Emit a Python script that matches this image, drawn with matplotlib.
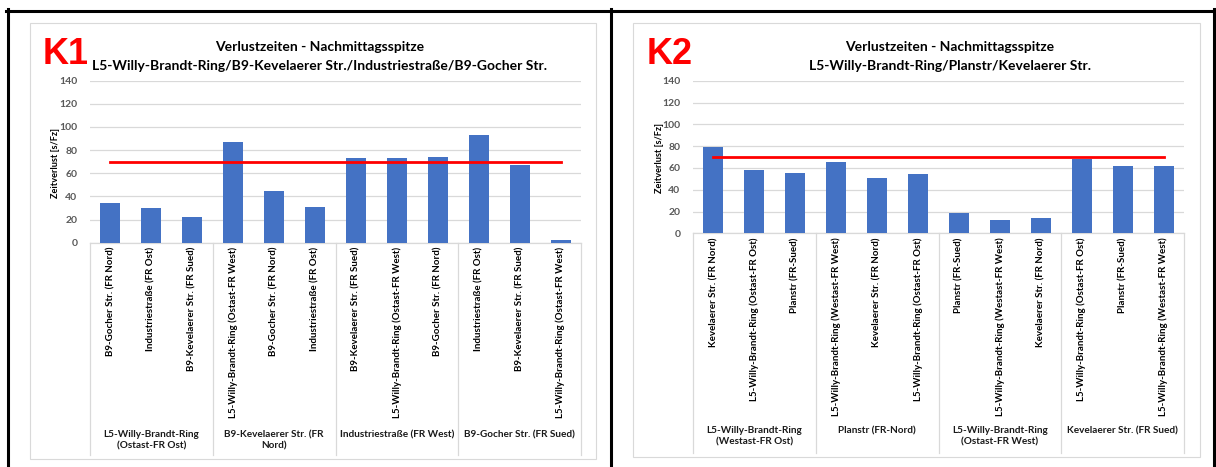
import matplotlib
matplotlib.use("Agg")
import matplotlib.pyplot as plt
from matplotlib.lines import Line2D
from matplotlib.patches import Rectangle
from matplotlib.transforms import blended_transform_factory

plt.rcParams['font.family'] = ['Lato', 'DejaVu Sans']

# ---------------- data ----------------
k1_title = ["Verlustzeiten - Nachmittagsspitze",
            "L5-Willy-Brandt-Ring/B9-Kevelaerer Str./Industriestraße/B9-Gocher Str."]
k1_groups = ["L5-Willy-Brandt-Ring\n(Ostast-FR Ost)", "B9-Kevelaerer Str. (FR\nNord)",
             "Industriestraße (FR West)", "B9-Gocher Str. (FR Sued)"]
k1_categories = [
    "B9-Gocher Str. (FR Nord)", "Industriestraße (FR Ost)", "B9-Kevelaerer Str. (FR Sued)",
    "L5-Willy-Brandt-Ring (Ostast-FR West)", "B9-Gocher Str. (FR Nord)", "Industriestraße (FR Ost)",
    "B9-Kevelaerer Str. (FR Sued)", "L5-Willy-Brandt-Ring (Ostast-FR West)", "B9-Gocher Str. (FR Nord)",
    "Industriestraße (FR Ost)", "B9-Kevelaerer Str. (FR Sued)", "L5-Willy-Brandt-Ring (Ostast-FR West)",
]
k1_values = [34, 30, 22, 87, 45, 31, 73, 73, 74, 93, 67, 2]

k2_title = ["Verlustzeiten - Nachmittagsspitze",
            "L5-Willy-Brandt-Ring/Planstr/Kevelaerer Str."]
k2_groups = ["L5-Willy-Brandt-Ring\n(Westast-FR Ost)", "Planstr (FR-Nord)",
             "L5-Willy-Brandt-Ring\n(Ostast-FR West)", "Kevelaerer Str. (FR Sued)"]
k2_categories = [
    "Kevelaerer Str. (FR Nord)", "L5-Willy-Brandt-Ring (Ostast-FR Ost)", "Planstr (FR-Sued)",
    "L5-Willy-Brandt-Ring (Westast-FR West)", "Kevelaerer Str. (FR Nord)", "L5-Willy-Brandt-Ring (Ostast-FR Ost)",
    "Planstr (FR-Sued)", "L5-Willy-Brandt-Ring (Westast-FR West)", "Kevelaerer Str. (FR Nord)",
    "L5-Willy-Brandt-Ring (Ostast-FR Ost)", "Planstr (FR-Sued)", "L5-Willy-Brandt-Ring (Westast-FR West)",
]
k2_values = [79, 58, 55, 65, 51, 54, 19, 12, 14, 68, 62, 62]

threshold = 70
y_ticks = [0, 20, 40, 60, 80, 100, 120, 140]
y_label = "Zeitverlust [s/Fz]"

# ---------------- layout helpers ----------------
W, H = 1216, 467
fig = plt.figure(figsize=(W / 100, H / 100), dpi=100)
fig.patch.set_facecolor("white")


def fx(x):
    return x / W


def fy(y):
    return 1 - y / H


BAR = "#4472C4"
GRID = "#d9d9d9"
TICK = "#595959"


def panel(tag, tag_x, title, title_x, groups, cats, vals,
          ax_left, ax_right, ax_top, ax_bottom, area, ylab_x, cat_pad, group_top, sep_bottom):
    # chart area frame
    x0, y0, x1, y1 = area
    fig.add_artist(Rectangle((fx(x0), fy(y1)), fx(x1) - fx(x0), fy(y0) - fy(y1),
                             transform=fig.transFigure, facecolor="white",
                             edgecolor=GRID, lw=0.8, zorder=0))

    ax = fig.add_axes([fx(ax_left), fy(ax_bottom), fx(ax_right) - fx(ax_left), fy(ax_top) - fy(ax_bottom)])
    xs = list(range(len(vals)))
    ax.bar(xs, vals, width=0.49, color=BAR, zorder=3)
    ax.plot(xs, [threshold] * len(xs), color="#ff0000", lw=2.0, zorder=4)

    ax.set_xlim(-0.5, len(vals) - 0.5)
    ax.set_ylim(0, 140)
    ax.set_yticks(y_ticks)
    ax.yaxis.grid(True, color=GRID, lw=0.9, zorder=0)
    ax.set_axisbelow(True)
    for s in ("top", "right", "left"):
        ax.spines[s].set_visible(False)
    ax.spines["bottom"].set_color(GRID)
    ax.spines["bottom"].set_linewidth(0.9)
    ax.tick_params(axis="y", length=0, pad=9, labelsize=7.5, labelcolor=TICK)
    for t in ax.get_yticklabels():
        t.set_fontweight("bold")
    ax.set_xticks(xs)
    ax.set_xticklabels(cats, rotation=90, fontsize=7.0, fontweight="bold", va="top", ha="center")
    ax.tick_params(axis="x", length=0, pad=cat_pad)
    ax.patch.set_alpha(0)

    # group separators and group labels under the category axis
    tr = blended_transform_factory(ax.transData, fig.transFigure)
    n_per = len(vals) // len(groups)
    for g in range(len(groups) + 1):
        xb = g * n_per - 0.5
        ax.add_line(Line2D([xb, xb], [fy(ax_bottom), fy(sep_bottom)], transform=tr,
                           color=GRID, lw=0.9, clip_on=False))
    for g, name in enumerate(groups):
        xc = g * n_per + (n_per - 1) / 2
        ax.text(xc, fy(group_top), name, transform=tr, ha="center", va="top",
                fontsize=7.2, fontweight="bold", color="#1a1a1a", linespacing=1.3)

    # y-axis title
    fig.text(fx(ylab_x), fy((ax_top + ax_bottom) / 2 + 1), y_label, rotation=90,
             ha="center", va="center", fontsize=6.6, fontweight="bold")

    # chart title (two lines) and tag
    fig.text(fx(title_x), fy(47), title[0], ha="center", va="center", fontsize=10,
             fontweight="bold")
    fig.text(fx(title_x), fy(66), title[1], ha="center", va="center", fontsize=10,
             fontweight="bold")
    fig.text(fx(tag_x), fy(64), tag, ha="left", va="baseline", fontsize=26,
             fontweight="bold", color="#ff0000", family="Liberation Sans")


panel("K1", 43, k1_title, 319.5, k1_groups, k1_categories, k1_values,
      ax_left=90, ax_right=581, ax_top=80.5, ax_bottom=242.7,
      area=(30, 23, 596, 459), ylab_x=55, cat_pad=3, group_top=430, sep_bottom=455)
panel("K2", 647, k2_title, 950, k2_groups, k2_categories, k2_values,
      ax_left=693, ax_right=1184, ax_top=80.7, ax_bottom=233.3,
      area=(633, 23, 1200, 457), ylab_x=660, cat_pad=3, group_top=426, sep_bottom=453)

# table frame around the two charts
for x in (7.5, 611, 1214):
    fig.add_artist(Line2D([fx(x), fx(x)], [fy(9), 0], transform=fig.transFigure,
                          color="black", lw=2.2))
fig.add_artist(Line2D([fx(6.4), fx(1215)], [fy(10.5), fy(10.5)], transform=fig.transFigure,
                      color="black", lw=2.2))

fig.savefig("out.png", dpi=100)
